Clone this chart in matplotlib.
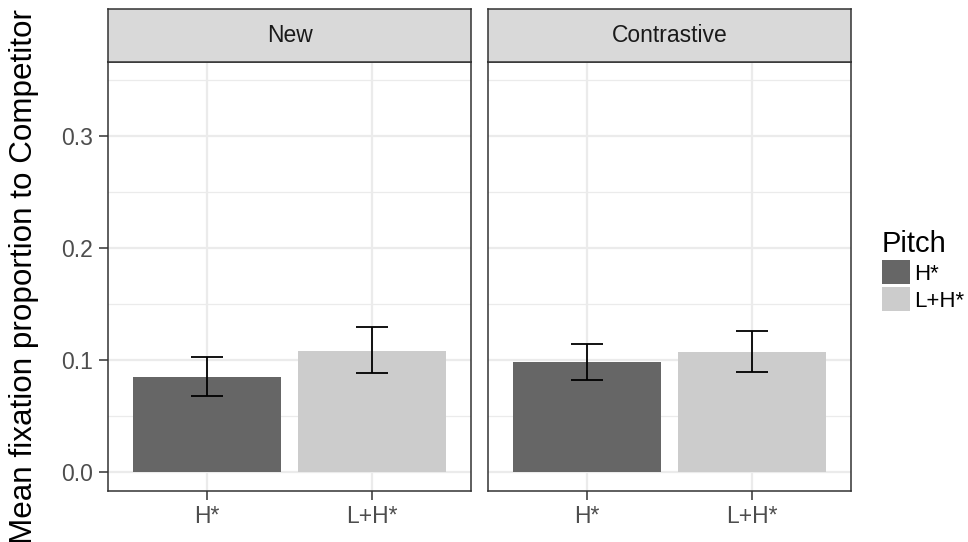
import numpy as np
import matplotlib
matplotlib.use("Agg")
import matplotlib.pyplot as plt
from matplotlib.patches import Patch

plt.rcParams["font.family"] = ["Liberation Sans", "DejaVu Sans"]

# fixation data: means with lower/upper error limits
PITCH = ["H*", "L+H*"]
FOCUS = ["New", "Contrastive"]
MEANS = {
    "New":         [0.085, 0.108],
    "Contrastive": [0.098, 0.107],
}
LOWER = {
    "New":         [0.068, 0.088],
    "Contrastive": [0.082, 0.089],
}
UPPER = {
    "New":         [0.102, 0.129],
    "Contrastive": [0.114, 0.126],
}
FILLS = ["#666666", "#cccccc"]

W, H = 968, 542
fig = plt.figure(figsize=(W / 100, H / 100), dpi=100)

# panel geometry in pixels
panel_left = [108.3, 488.3]
panel_w = 362.7
panel_top, panel_bot = 61.7, 491.0
strip_top = 9.3

def fx(px):
    return px / W

def fy(py):
    return 1 - py / H

EDGE = "#333333"
GRID = "#ebebeb"
TICK_TXT = "#4d4d4d"

x = np.arange(1, len(PITCH) + 1)
for i, focus in enumerate(FOCUS):
    ax = fig.add_axes([fx(panel_left[i]), fy(panel_bot),
                       fx(panel_w), (panel_bot - panel_top) / H])
    m = np.array(MEANS[focus])
    lo = np.array(LOWER[focus])
    hi = np.array(UPPER[focus])
    ax.bar(x, m, 0.9, color=FILLS, zorder=2)
    ax.errorbar(x, m, yerr=[m - lo, hi - m], fmt="none", ecolor="black",
                elinewidth=1.3, capsize=11.5, capthick=1.3, zorder=3)

    ax.set_xlim(0.4, 2.6)
    ax.set_ylim(-0.0172, 0.3661)
    ax.set_xticks(x)
    ax.set_xticklabels(PITCH)
    ax.set_yticks([0.0, 0.1, 0.2, 0.3])
    ax.set_yticks([0.05, 0.15, 0.25, 0.35], minor=True)
    ax.set_yticklabels(["0.0", "0.1", "0.2", "0.3"])
    ax.grid(which="major", color=GRID, lw=1.6, zorder=0)
    ax.grid(which="minor", axis="y", color=GRID, lw=0.9, zorder=0)
    ax.set_axisbelow(True)
    ax.tick_params(which="major", length=6.5, width=1.1, color=EDGE,
                   labelsize=16.5, labelcolor=TICK_TXT)
    ax.tick_params(axis="y", pad=4.5)
    ax.tick_params(axis="x", pad=3.5)
    ax.tick_params(which="minor", length=0)
    if i == 1:
        ax.tick_params(axis="y", which="both", left=False, labelleft=False)
    for s in ax.spines.values():
        s.set_color(EDGE)
        s.set_linewidth(1.1)

    sax = fig.add_axes([fx(panel_left[i]), fy(panel_top),
                        fx(panel_w), (panel_top - strip_top) / H])
    sax.set_facecolor("#d9d9d9")
    sax.set_xticks([])
    sax.set_yticks([])
    for s in sax.spines.values():
        s.set_color(EDGE)
        s.set_linewidth(1.1)
    sax.text(0.5, 0.5, focus, ha="center", va="center", fontsize=16.5,
             color="#1a1a1a", transform=sax.transAxes)

fig.text(fx(24), fy(276), "Mean fixation proportion to Competitor",
         rotation=90, ha="center", va="center", fontsize=22.6)

handles = [Patch(facecolor=c, edgecolor="none") for c in FILLS]
leg = fig.legend(handles, PITCH, title="Pitch", loc="upper left",
                 bbox_to_anchor=(fx(882), fy(230)), frameon=False,
                 fontsize=16, title_fontsize=21, handlelength=1.25,
                 handleheight=1.3, labelspacing=0.1, handletextpad=0.2,
                 borderaxespad=0, borderpad=0, alignment="left")

fig.savefig("out.png", dpi=100)
